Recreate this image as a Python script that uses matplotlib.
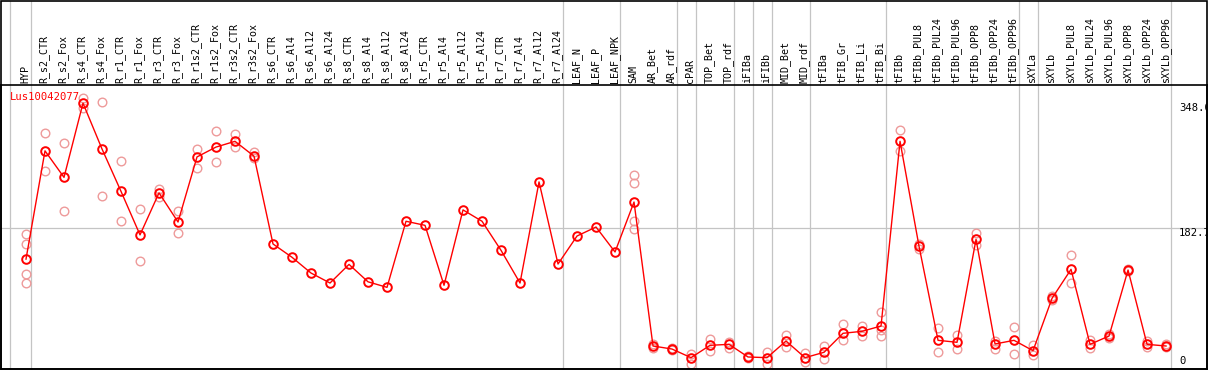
import matplotlib
matplotlib.use("Agg")
import matplotlib.pyplot as plt
from matplotlib.transforms import blended_transform_factory
from matplotlib.patches import Rectangle
from matplotlib.lines import Line2D

gene = "Lus10042077"

categories = [
    "HYP", "R_s2_CTR", "R_s2_Fox", "R_s4_CTR", "R_s4_Fox", "R_r1_CTR", "R_r1_Fox",
    "R_r3_CTR", "R_r3_Fox", "R_r1s2_CTR", "R_r1s2_Fox", "R_r3s2_CTR", "R_r3s2_Fox",
    "R_s6_CTR", "R_s6_Al4", "R_s6_Al12", "R_s6_Al24", "R_s8_CTR", "R_s8_Al4",
    "R_s8_Al12", "R_s8_Al24", "R_r5_CTR", "R_r5_Al4", "R_r5_Al12", "R_r5_Al24",
    "R_r7_CTR", "R_r7_Al4", "R_r7_Al12", "R_r7_Al24", "LEAF_N", "LEAF_P", "LEAF_NPK",
    "SAM", "AR_Bet", "AR_rdf", "cPAR", "TOP_Bet", "TOP_rdf", "iFIBa", "iFIBb",
    "MID_Bet", "MID_rdf", "tFIBa", "tFIB_Gr", "tFIB_Li", "tFIB_Bi", "tFIBb",
    "tFIBb_PUL8", "tFIBb_PUL24", "tFIBb_PUL96", "tFIBb_OPP8", "tFIBb_OPP24",
    "tFIBb_OPP96", "sXYLa", "sXYLb", "sXYLb_PUL8", "sXYLb_PUL24", "sXYLb_PUL96",
    "sXYLb_OPP8", "sXYLb_OPP24", "sXYLb_OPP96",
]

means = [
    142, 285, 250, 348, 287.5, 231.5, 174, 229.5, 191, 277, 290, 297.6, 278,
    162, 144.4, 123.6, 110.4, 135, 112, 104.7, 192, 186.6, 107.4, 207, 192,
    153.6, 110.4, 244, 135.5, 172.5, 184.4, 151.4,
    217.4, 27.2, 23.2, 11.8, 28.1, 29.4, 12.7, 11.8, 33.8, 11.8, 18.9, 44, 46.6,
    53.6, 297.6, 158.9, 34.7, 32.1, 168.1, 29.9, 34.7, 21, 90.2, 128.5, 29.4,
    40.4, 127.6, 29.4, 27.2,
]

replicates = [
    [175, 162, 122, 110], [308, 259], [296, 205.5], [355, 342], [349, 225],
    [271, 192], [208, 140], [235, 224], [206, 176], [288, 263], [311, 270],
    [307, 290], [283, 276],
    [], [], [], [], [], [], [], [], [], [], [], [], [], [], [], [], [], [], [],
    [253, 242.5, 192.3, 181.8], [30, 24], [24.5, 21.5], [16.6, 3.9],
    [36.5, 20.2], [32.5, 25], [14, 11], [19.3, 3], [41.3, 25.5], [17.5, 5.6],
    [27.2, 9.6], [55.8, 34.7], [53.6, 40.8], [71.7, 48.3, 40.4], [312, 284.4],
    [162, 156], [50.6, 18.9], [41.3, 22.8], [176, 160.2], [33.8, 23.7],
    [51.9, 17.1], [28.1, 15.3], [92.8, 88], [147, 110], [35.1, 25], [42.7, 37.4],
    [129, 126], [33.8, 25.5], [30, 26],
]

group_ends = [0, 28, 31, 34, 35, 37, 38, 39, 41, 45, 52, 53, 60]

y_max_label = "348.0"
y_mid_label = "182.7"
y_min_label = "0"
y_max_val = 348.0
y_mid_val = 182.7
y_min_val = 0.0

W, H = 1209, 370
fig = plt.figure(figsize=(W / 100, H / 100), dpi=100)
fig.patch.set_facecolor("white")

left_px, right_px, top_px, bot_px = 1.3, 1206.7, 85.3, 369.3
ax = fig.add_axes([left_px / W, (H - bot_px) / H, (right_px - left_px) / W,
                   (bot_px - top_px) / H])
ax.set_xlim(-1.3, 62.14)
ax.set_ylim(-3.57, 371.6)
for s in ax.spines.values():
    s.set_color("black")
    s.set_linewidth(1.2)
ax.set_xticks([])
ax.set_yticks([])

# outer frame around label area
fig.add_artist(Rectangle((left_px / W, (H - bot_px) / H),
                         (right_px - left_px) / W, (bot_px - 0.6) / H,
                         transform=fig.transFigure, fill=False,
                         edgecolor="black", linewidth=1.2))

grid_c = "#c4c4c4"
# horizontal mid line
ax.axhline(y_mid_val, color=grid_c, linewidth=0.9, zorder=1)
# vertical group separators, extending into label area
ext = (bot_px - 0.6) / (bot_px - top_px)
seps = [-0.82] + [g + 0.25 for g in group_ends]
for s in seps:
    ax.axvline(s, ymin=0, ymax=ext, color=grid_c, linewidth=0.9,
               clip_on=False, zorder=1)

xs = list(range(len(categories)))

# replicates
rx, ry = [], []
for i, reps in enumerate(replicates):
    for r in reps:
        rx.append(i)
        ry.append(r)
ax.plot(rx, ry, linestyle="none", marker="o", markersize=6.2,
        markerfacecolor="none", markeredgecolor="#ee9a9a",
        markeredgewidth=1.0, zorder=2)

# mean line
ax.plot(xs, means, color="#ff0000", linewidth=1.0, marker="o", markersize=6.2,
        markerfacecolor="none", markeredgecolor="#ff0000", markeredgewidth=1.4,
        zorder=3)

mono = "DejaVu Sans Mono"
# category labels
trans = blended_transform_factory(ax.transData, ax.transAxes)
for i, c in enumerate(categories):
    ax.text(i - 0.05, 1 + 2.6 / (bot_px - top_px), c, rotation=90, ha="center",
            va="bottom", fontsize=7.2, family=mono, transform=trans,
            clip_on=False)

# gene title
ax.text(-0.85, 356.5, gene, color="#ff0000", fontsize=7.6, family=mono,
        ha="left", va="center")

# scale labels on right
ax.text(60.68, y_max_val, y_max_label, fontsize=7.6, family=mono, ha="left",
        va="top", clip_on=True)
ax.text(60.68, y_mid_val, y_mid_label, fontsize=7.6, family=mono, ha="left",
        va="top", clip_on=True)
ax.text(60.68, y_min_val + 0.5, y_min_label, fontsize=7.6, family=mono,
        ha="left", va="bottom", clip_on=True)

fig.savefig("out.png", dpi=100, facecolor="white")
